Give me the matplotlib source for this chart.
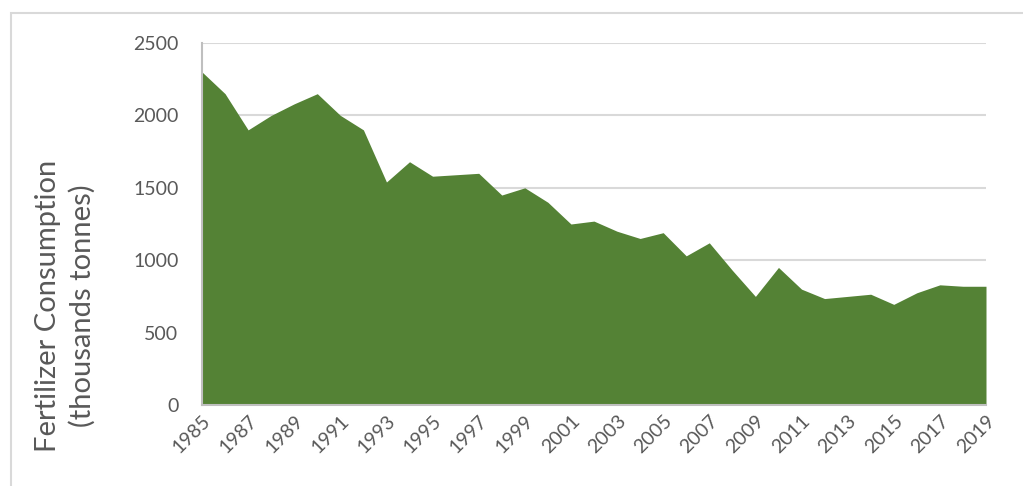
import matplotlib.pyplot as plt
from matplotlib.patches import Rectangle

# Annual fertilizer consumption, thousands of tonnes
years = list(range(1985, 2020))
consumption = [
    2300, 2150, 1900, 2000, 2080, 2150, 2000, 1900, 1540, 1680,
    1580, 1590, 1600, 1450, 1500, 1400, 1250, 1270, 1200, 1150,
    1190, 1030, 1120, 930, 750, 950, 800, 735, 750, 765,
    695, 775, 830, 820, 820,
]
tick_years = list(range(1985, 2020, 2))
y_ticks = [0, 500, 1000, 1500, 2000, 2500]

plt.rcParams['font.family'] = ['Lato', 'DejaVu Sans']
text_grey = "#595959"
fill_green = "#548235"

fig = plt.figure(figsize=(10.23, 4.86), dpi=100)
ax = fig.add_axes([202 / 1023, 1 - 405 / 486, 784 / 1023, 362 / 486])

ax.fill_between(years, consumption, 0, color=fill_green, linewidth=0, zorder=2)

ax.set_xlim(1985, 2019)
ax.set_ylim(0, 2500)
ax.set_yticks(y_ticks)
ax.set_xticks(tick_years)
ax.set_xticklabels([str(y) for y in tick_years], rotation=45, ha="right",
                   rotation_mode="anchor")
ax.tick_params(axis="y", length=0, pad=17, labelsize=14, labelcolor=text_grey)
ax.tick_params(axis="x", length=0, pad=5, labelsize=14, labelcolor=text_grey)

ax.grid(axis="y", color="#d9d9d9", linewidth=1.5, zorder=0)
for side in ["top", "right"]:
    ax.spines[side].set_visible(False)
for side in ["left", "bottom"]:
    ax.spines[side].set_color("#bfbfbf")
    ax.spines[side].set_linewidth(1.5)
    ax.spines[side].set_zorder(3)

fig.text(65 / 1023, 1 - 306 / 486, "Fertilizer Consumption\n(thousands tonnes)",
         rotation=90, ha="center", va="center", multialignment="center",
         fontsize=21, color=text_grey, linespacing=1.35)

# chart area border
fig.patches.append(Rectangle((11 / 1023, -0.1), 1.1, 1 - 13 / 486 + 0.1,
                             transform=fig.transFigure, fill=False,
                             edgecolor="#d9d9d9", linewidth=1.5))

fig.savefig("out.png", dpi=100)
